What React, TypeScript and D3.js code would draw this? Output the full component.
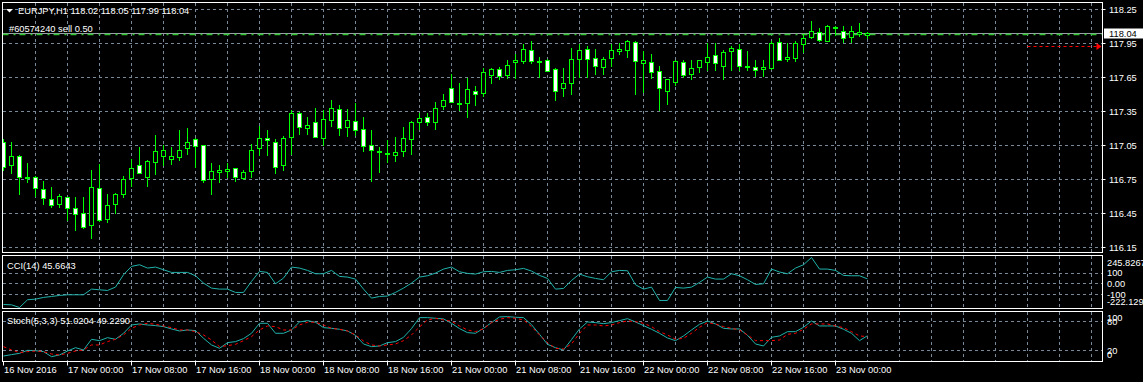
import React from 'react';
import * as d3 from 'd3';

const W = 1143;
const H = 382;

// EURJPY H1 candles (16 Nov 2016 16:00 .. 23 Nov 2016 04:00)
const openP = [
  117.08, 116.87, 116.95, 116.77, 116.77, 116.66, 116.57, 116.53, 116.59, 116.49,
  116.45, 116.34, 116.67, 116.40, 116.53, 116.62, 116.76, 116.87, 116.77, 116.90,
  116.95, 116.93, 116.94, 117.02, 117.10, 117.05, 116.75, 116.81, 116.82, 116.85,
  116.76, 116.82, 117.02, 117.11, 117.08, 116.87, 117.12, 117.33, 117.20, 117.25,
  117.11, 117.27, 117.37, 117.21, 117.26, 117.19, 117.05, 117.00, 116.98, 116.96,
  117.00, 117.10, 117.25, 117.30, 117.25, 117.39, 117.55, 117.42, 117.42, 117.53,
  117.51, 117.67, 117.72, 117.67, 117.78, 117.79, 117.89, 117.78, 117.80, 117.72,
  117.55, 117.60, 117.81, 117.90, 117.82, 117.74, 117.82, 117.88, 117.89, 117.96,
  117.77, 117.78, 117.70, 117.53, 117.61, 117.78, 117.68, 117.74, 117.78, 117.84,
  117.75, 117.88, 117.90, 117.75, 117.74, 117.72, 117.73, 117.96, 117.81, 117.82,
  117.94, 118.00, 118.05, 117.97, 118.09, 118.06, 118.00, 118.03, 118.02,
];
const highP = [
  117.10, 117.08, 116.96, 116.89, 116.78, 116.73, 116.68, 116.62, 116.59, 116.59,
  116.59, 116.83, 116.88, 116.62, 116.63, 116.78, 116.93, 117.03, 116.92, 117.14,
  117.05, 117.03, 117.18, 117.20, 117.11, 117.05, 116.89, 116.87, 116.89, 116.85,
  116.83, 117.06, 117.22, 117.18, 117.10, 117.13, 117.36, 117.34, 117.30, 117.38,
  117.36, 117.45, 117.40, 117.37, 117.42, 117.30, 117.18, 117.03, 117.09, 117.12,
  117.21, 117.26, 117.33, 117.33, 117.43, 117.50, 117.68, 117.60, 117.64, 117.57,
  117.73, 117.73, 117.74, 117.80, 117.85, 117.94, 117.97, 117.83, 117.81, 117.73,
  117.73, 117.91, 117.94, 117.92, 117.90, 117.83, 117.94, 117.95, 117.98, 117.97,
  117.88, 117.85, 117.75, 117.63, 117.80, 117.80, 117.80, 117.80, 117.95, 117.95,
  117.89, 117.92, 117.94, 117.88, 117.80, 117.80, 117.97, 117.99, 117.95, 117.97,
  118.03, 118.14, 118.08, 118.11, 118.10, 118.10, 118.10, 118.13, 118.05,
];
const lowP = [
  116.83, 116.80, 116.62, 116.72, 116.60, 116.53, 116.50, 116.50, 116.39, 116.30,
  116.32, 116.23, 116.38, 116.37, 116.45, 116.59, 116.69, 116.80, 116.69, 116.79,
  116.87, 116.88, 116.92, 116.97, 116.86, 116.72, 116.62, 116.72, 116.77, 116.73,
  116.75, 116.77, 116.96, 116.96, 116.80, 116.83, 116.97, 117.15, 117.15, 117.12,
  117.05, 117.22, 117.14, 117.13, 117.14, 117.00, 116.73, 116.81, 116.90, 116.91,
  116.95, 116.97, 117.19, 117.23, 117.19, 117.37, 117.43, 117.36, 117.30, 117.40,
  117.48, 117.60, 117.63, 117.64, 117.64, 117.77, 117.77, 117.65, 117.70, 117.45,
  117.48, 117.50, 117.65, 117.65, 117.68, 117.68, 117.75, 117.85, 117.83, 117.50,
  117.52, 117.64, 117.36, 117.41, 117.58, 117.65, 117.63, 117.69, 117.71, 117.71,
  117.63, 117.71, 117.71, 117.71, 117.66, 117.66, 117.72, 117.80, 117.79, 117.79,
  117.87, 117.99, 117.97, 117.97, 118.02, 117.96, 117.96, 118.01, 117.99,
];
const closeP = [
  116.86, 116.95, 116.77, 116.76, 116.67, 116.58, 116.52, 116.60, 116.49, 116.44,
  116.33, 116.68, 116.39, 116.52, 116.62, 116.75, 116.85, 116.80, 116.91, 117.00,
  117.01, 116.95, 117.01, 117.08, 117.04, 116.74, 116.82, 116.83, 116.84, 116.77,
  116.81, 117.01, 117.11, 117.09, 116.86, 117.11, 117.33, 117.21, 117.23, 117.12,
  117.28, 117.38, 117.20, 117.27, 117.18, 117.04, 117.01, 116.99, 116.97, 116.99,
  117.11, 117.25, 117.29, 117.25, 117.38, 117.45, 117.43, 117.41, 117.54, 117.50,
  117.69, 117.72, 117.66, 117.76, 117.80, 117.90, 117.79, 117.79, 117.70, 117.53,
  117.60, 117.81, 117.89, 117.81, 117.75, 117.81, 117.89, 117.90, 117.97, 117.79,
  117.80, 117.69, 117.55, 117.63, 117.79, 117.67, 117.73, 117.80, 117.83, 117.77,
  117.87, 117.91, 117.75, 117.74, 117.71, 117.74, 117.95, 117.80, 117.83, 117.95,
  117.99, 118.06, 117.98, 118.10, 118.08, 117.99, 118.06, 118.05, 118.04,
];

const cci = [
  -194, -197, -222.129, -150, -143.8, -128.1, -118.8, -109.4, -103.1, -103.1,
  -103.1, -50, -56.3, -62.5, -31.3, 84.4, 162.5, 178.1, 146.9, 156.3,
  131.3, 106.3, 106.3, 106.3, 75, 6.3, -40.6, -50, -50, -81.3,
  -81.3, 21.9, 115.6, 106.3, 0, 53.1, 156.3, 146.9, 125, 93.8,
  93.8, 125, 68.8, 62.5, 43.8, -50, -134.4, -118.8, -115, -81,
  -40.6, 6.3, 62.5, 75, 100, 137.5, 156.3, 112.5, 96.9, 90.6,
  112.5, 115.6, 106.3, 125, 131.3, 143.8, 118.8, 78.1, 50, -50,
  -43.8, 31.3, 90.6, 65.6, 50, 37.5, 112.5, 125, 121.9, -9.4,
  -50, -31.3, -156.3, -156.3, -34.4, -40.6, -31.3, 12.5, 62.5, 43.8,
  43.8, 93.8, 75, 37.5, -6.3, 0, 137.5, 110, 93.8, 146.9,
  178.1, 245.8267, 137.5, 137.5, 125, 78.1, 75, 75, 45.6643,
];

const stochMain = [
  9.1, 11.9, 14.6, 20.8, 20.1, 18.1, 7.7, 11.2, 19.4, 26.3,
  21.5, 43.6, 40.8, 47.0, 43.6, 56.0, 73.2, 75.3, 73.2, 71.9,
  69.8, 65.0, 60.8, 62.9, 61.5, 45.7, 31.9, 25.0, 36.7, 38.8,
  45.0, 56.0, 76.7, 76.7, 56.0, 56.0, 62.9, 79.4, 82.2, 78.8,
  67.7, 66.3, 64.3, 60.8, 51.9, 33.9, 28.4, 29.8, 36.7, 38.8,
  47.7, 65.7, 88.4, 88.4, 87.0, 85.7, 76.7, 65.7, 57.4, 56.0,
  66.3, 78.1, 89.8, 90.5, 89.1, 88.4, 73.9, 53.9, 33.2, 26.3,
  21.5, 42.9, 65.0, 79.4, 78.1, 76.0, 78.1, 82.2, 86.3, 79.4,
  71.9, 64.3, 56.0, 46.3, 40.8, 50.5, 62.9, 74.6, 81.5, 75.3,
  66.3, 65.0, 65.0, 51.9, 33.9, 29.8, 47.7, 50.5, 59.4, 59.4,
  68.4, 81.5, 71.2, 71.2, 71.2, 64.3, 56.0, 40.8, 51.0204,
];
const stochSignal = [
  28.4, 21.5, 16.0, 18.1, 19.4, 18.1, 13.2, 11.2, 14.6, 19.4,
  21.5, 31.9, 31.9, 38.8, 43.6, 52.6, 66.3, 73.2, 76.7, 74.6,
  71.2, 67.7, 62.9, 62.9, 59.4, 52.6, 42.2, 28.4, 30.5, 33.2,
  40.8, 49.1, 62.9, 71.2, 69.8, 62.9, 62.9, 73.2, 78.8, 78.8,
  73.2, 66.3, 64.3, 60.8, 52.6, 40.1, 31.9, 29.8, 31.9, 33.9,
  40.8, 52.6, 69.1, 83.6, 87.0, 83.6, 80.8, 71.2, 62.9, 59.4,
  65.0, 78.1, 85.0, 88.4, 87.0, 83.6, 69.8, 52.6, 36.7, 25.0,
  23.6, 33.9, 56.0, 73.2, 73.2, 71.2, 73.2, 78.1, 81.5, 80.1,
  76.7, 69.8, 59.4, 52.6, 43.6, 45.7, 56.0, 68.4, 78.1, 75.3,
  69.8, 66.3, 62.9, 52.6, 40.8, 40.8, 40.8, 42.2, 53.9, 56.0,
  64.3, 75.3, 75.3, 75.3, 71.2, 67.7, 59.4, 50.5, 49.229,
];

const priceTicks = [118.25, 117.95, 117.65, 117.35, 117.05, 116.75, 116.45, 116.15];
const timeTickIdx = [0, 8, 16, 24, 32, 40, 48, 56, 64, 72, 80, 88, 96, 104];
const timeTickLabels = [
  '16 Nov 2016', '17 Nov 00:00', '17 Nov 08:00', '17 Nov 16:00', '18 Nov 00:00',
  '18 Nov 08:00', '18 Nov 16:00', '21 Nov 00:00', '21 Nov 08:00', '21 Nov 16:00',
  '22 Nov 00:00', '22 Nov 08:00', '22 Nov 16:00', '23 Nov 00:00',
];
const cciLevels = [100, 0, -100];
const cciLabels = ['245.8267', '100', '0.00', '-100', '-222.129'];
const cciLabelValues = [245.8267, 100, 0, -100, -222.129];
const stochLevels = [80, 20];
const stochLabels = ['100', '80', '20', '0'];
const stochLabelValues = [100, 80, 20, 0];

const symbolTitle = 'EURJPY,H1  118.02 118.05 117.99 118.04';
const orderText = '#60574240 sell 0.50';
const bidPrice = 118.04;
const orderPrice = 118.035;
const arrowPrice = 117.92;
const cciTitle = 'CCI(14) 45.6643';
const stochTitle = 'Stoch(5,3,3) 51.0204 49.2290';

const FONT = "'Liberation Sans', Arial, sans-serif";
const FS = 9.3;
const LIME = '#00ff00';
const GRID = '#778899';
const IND = '#20b2aa';

const snap = (v: number) => Math.round(v - 0.5) + 0.5;

export default function App() {
  const L = 2.5, R = 1102.5;
  const main = { top: 2.5, bottom: 252.5 };
  const cciP = { top: 255.5, bottom: 308.5 };
  const stoP = { top: 311.5, bottom: 361.5 };

  const x = d3.scaleLinear().domain([0, 108]).range([3.5, 867.5]);
  const y = d3.scaleLinear().domain([116.15, 118.25]).range([247.5, 9.5]);
  const yC = d3.scaleLinear().domain([-222.129, 245.8267]).range([307.5, 257.5]);
  const yS = d3.scaleLinear().domain([0, 100]).range([360.4, 312]);

  const vGrid: number[] = [];
  for (let k = 1; x(4 * k) < R - 2; k++) vGrid.push(x(4 * k));

  const cciLine = d3.line<number>().x((_, i) => x(i)).y((d) => yC(d))(cci) || '';
  const mainLine = d3.line<number>().x((_, i) => x(i)).y((d) => yS(d))(stochMain) || '';
  const sigLine = d3.line<number>().x((_, i) => x(i)).y((d) => yS(d))(stochSignal) || '';

  const textProps = { fontFamily: FONT, fontSize: FS, fill: '#ffffff' };

  return (
    <svg
      width={W}
      height={H}
      style={{ position: 'absolute', left: 0, top: 0, display: 'block', background: '#000' }}
    >
      <rect x={0} y={0} width={W} height={H} fill="#000" />
      <defs>
        <clipPath id="clipMain">
          <rect x={3} y={3} width={R - 3} height={main.bottom - 3} />
        </clipPath>
        <clipPath id="clipCci">
          <rect x={3} y={cciP.top + 0.5} width={R - 3} height={cciP.bottom - cciP.top - 1} />
        </clipPath>
        <clipPath id="clipSto">
          <rect x={3} y={stoP.top + 0.5} width={R - 3} height={stoP.bottom - stoP.top - 1} />
        </clipPath>
      </defs>

      {/* grids */}
      <g stroke={GRID} strokeWidth={1} strokeDasharray="3,3" fill="none">
        {vGrid.map((gx, i) => (
          <g key={'vg' + i}>
            <line x1={gx} x2={gx} y1={main.top + 0.5} y2={main.bottom - 0.5} />
            <line x1={gx} x2={gx} y1={cciP.top + 0.5} y2={cciP.bottom - 0.5} />
            <line x1={gx} x2={gx} y1={stoP.top + 0.5} y2={stoP.bottom - 0.5} />
          </g>
        ))}
        {priceTicks.map((p, i) => (
          <line key={'hg' + i} x1={L + 0.5} x2={R - 0.5} y1={snap(y(p))} y2={snap(y(p))} />
        ))}
        {cciLevels.map((v, i) => (
          <line key={'cg' + i} x1={L + 0.5} x2={R - 0.5} y1={snap(yC(v))} y2={snap(yC(v))} />
        ))}
        {stochLevels.map((v, i) => (
          <line key={'sg' + i} x1={L + 0.5} x2={R - 0.5} y1={snap(yS(v))} y2={snap(yS(v))} />
        ))}
      </g>

      {/* bid line & order line */}
      <line x1={L} x2={R} y1={snap(y(bidPrice))} y2={snap(y(bidPrice))} stroke="#9aa0a8" strokeWidth={1} />
      <line
        x1={L}
        x2={R}
        y1={y(orderPrice) + 0.6}
        y2={y(orderPrice) + 0.6}
        stroke="#2fc62f"
        strokeWidth={1.6}
        strokeDasharray="6,5,2,4"
      />
      {/* red order arrow */}
      <line
        x1={x(128)}
        x2={R - 6}
        y1={snap(y(arrowPrice))}
        y2={snap(y(arrowPrice))}
        stroke="#ff0000"
        strokeWidth={1}
        strokeDasharray="3,3"
      />
      <polygon
        points={`${R - 6},${snap(y(arrowPrice)) - 3.5} ${R - 1},${snap(y(arrowPrice))} ${R - 6},${snap(y(arrowPrice)) + 3.5}`}
        fill="#ff0000"
      />

      {/* candles */}
      <g clipPath="url(#clipMain)">
        {openP.map((o, i) => {
          const c = closeP[i];
          const cx = x(i);
          const yh = snap(y(highP[i]));
          const yl = snap(y(lowP[i]));
          const yt = snap(y(Math.max(o, c)));
          const yb = snap(y(Math.min(o, c)));
          const bull = c >= o;
          return (
            <g key={'c' + i}>
              <line x1={cx} x2={cx} y1={yh - 0.5} y2={yl + 0.5} stroke={LIME} strokeWidth={1} />
              {yb - yt < 1 ? (
                <line x1={cx - 2.5} x2={cx + 2.5} y1={yt} y2={yt} stroke={LIME} strokeWidth={1.5} />
              ) : (
                <rect
                  x={cx - 2}
                  y={yt}
                  width={4}
                  height={yb - yt}
                  fill={bull ? '#000' : '#fff'}
                  stroke={LIME}
                  strokeWidth={1}
                />
              )}
            </g>
          );
        })}
      </g>

      {/* indicator lines */}
      <g clipPath="url(#clipCci)">
        <path d={cciLine} fill="none" stroke={IND} strokeWidth={1} />
      </g>
      <g clipPath="url(#clipSto)">
        <path d={mainLine} fill="none" stroke={IND} strokeWidth={1} />
        <path d={sigLine} fill="none" stroke="#ff0000" strokeWidth={1} strokeDasharray="3,3" />
      </g>

      {/* frames */}
      <g fill="none" stroke="#ffffff" strokeWidth={1}>
        <rect x={L} y={main.top} width={R - L} height={main.bottom - main.top} />
        <rect x={L} y={cciP.top} width={R - L} height={cciP.bottom - cciP.top} />
        <rect x={L} y={stoP.top} width={R - L} height={stoP.bottom - stoP.top} />
      </g>

      {/* titles */}
      <polygon points="6,9 13,9 9.5,12.5" fill="#ffffff" />
      <text x={18} y={14} {...textProps}>{symbolTitle}</text>
      <text x={9} y={32} {...textProps}>{orderText}</text>
      <text x={7} y={268.5} {...textProps}>{cciTitle}</text>
      <text x={7} y={324} {...textProps}>{stochTitle}</text>

      {/* right price axis */}
      {priceTicks.map((p, i) => (
        <g key={'pt' + i}>
          <line x1={R} x2={R + 3} y1={snap(y(p))} y2={snap(y(p))} stroke="#fff" />
          <text x={1109} y={y(p) + 3.4} {...textProps}>{p.toFixed(2)}</text>
        </g>
      ))}
      <rect x={1104} y={28.5} width={39} height={10} fill="#ffffff" />
      <text x={1109} y={y(bidPrice) + 3.4} fontFamily={FONT} fontSize={FS} fill="#000">
        {bidPrice.toFixed(2)}
      </text>

      {/* CCI axis labels */}
      {cciLabels.map((t, i) => {
        const v = cciLabelValues[i];
        let cy = yC(v);
        if (i === 0) cy = Math.max(cy, 262.5);
        if (i === cciLabels.length - 1) cy = Math.min(cy, 302);
        return (
          <text key={'cl' + i} x={1107} y={cy + 3.4} {...textProps}>{t}</text>
        );
      })}
      {/* Stoch axis labels */}
      {stochLabels.map((t, i) => {
        const v = stochLabelValues[i];
        let cy = yS(v);
        if (v === 100) cy = 318;
        if (v === 0) cy = 355;
        return (
          <text key={'sl' + i} x={1107} y={cy + 3.4} {...textProps}>{t}</text>
        );
      })}

      {/* time axis */}
      {timeTickIdx.map((ti, i) => (
        <g key={'tt' + i}>
          <line x1={x(ti)} x2={x(ti)} y1={stoP.bottom} y2={stoP.bottom + 4} stroke="#fff" />
          <text x={x(ti) + 0.5} y={373} {...textProps}>{timeTickLabels[i]}</text>
        </g>
      ))}
    </svg>
  );
}
